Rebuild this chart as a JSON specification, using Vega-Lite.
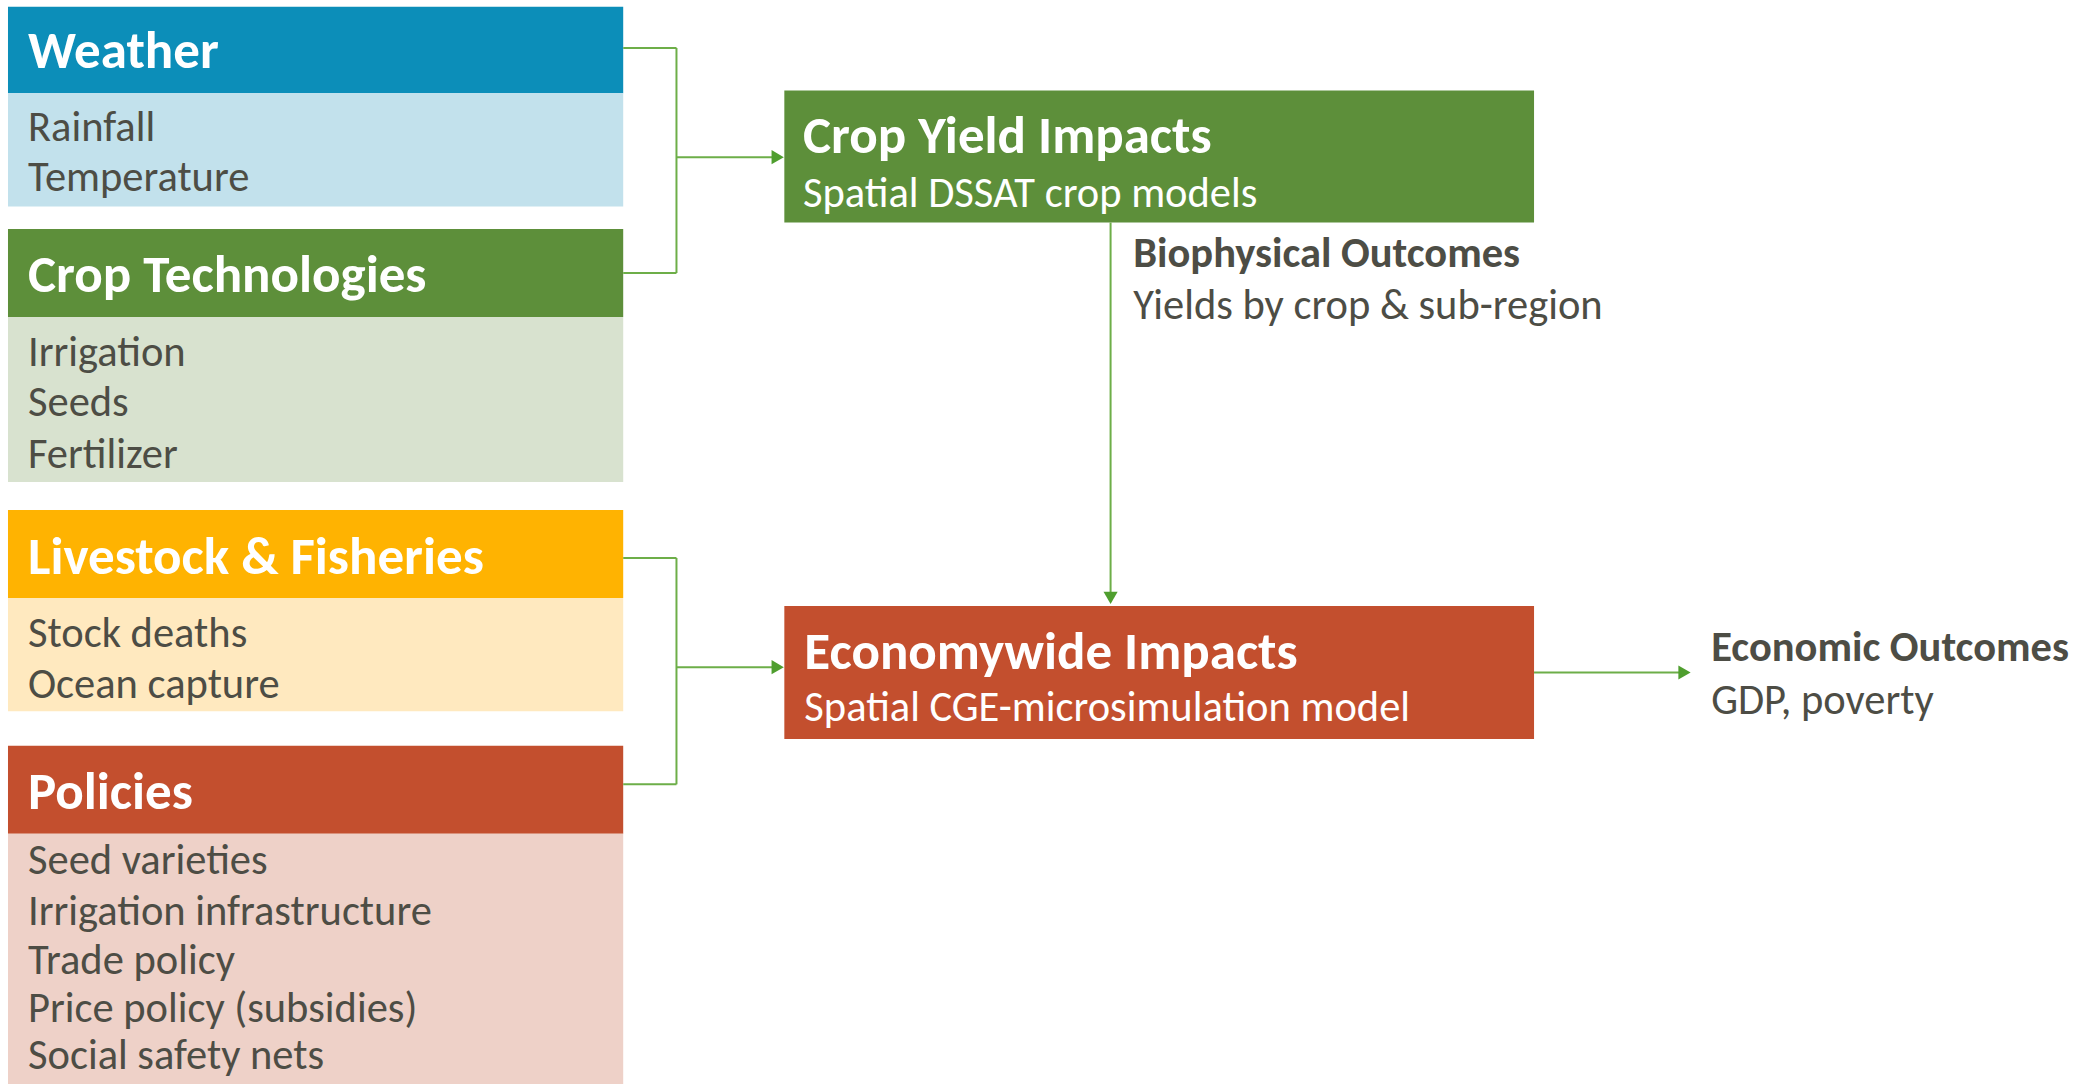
{
  "$schema": "https://vega.github.io/schema/vega-lite/v6.json",
  "width": 2088,
  "height": 1084,
  "autosize": {"type": "fit", "contains": "padding"},
  "padding": 0,
  "background": "#ffffff",
  "config": {"view": {"stroke": null}},
  "datasets": {
    "boxes": [
      {"box": "Weather header", "x": 6, "x2": 468, "y": 5, "y2": 70},
      {"box": "Weather body", "x": 6, "x2": 468, "y": 70, "y2": 155},
      {"box": "Crop header", "x": 6, "x2": 468, "y": 172, "y2": 238},
      {"box": "Crop body", "x": 6, "x2": 468, "y": 238, "y2": 362},
      {"box": "Livestock header", "x": 6, "x2": 468, "y": 383, "y2": 449},
      {"box": "Livestock body", "x": 6, "x2": 468, "y": 449, "y2": 534},
      {"box": "Policies header", "x": 6, "x2": 468, "y": 560, "y2": 626},
      {"box": "Policies body", "x": 6, "x2": 468, "y": 626, "y2": 814},
      {"box": "Crop yield", "x": 589, "x2": 1152, "y": 68, "y2": 167},
      {"box": "Economywide", "x": 589, "x2": 1152, "y": 455, "y2": 555}
    ],
    "texts": [
      {"role": "header", "label": "Weather", "x": 21, "y": 37},
      {"role": "header", "label": "Crop Technologies", "x": 21, "y": 205},
      {"role": "header", "label": "Livestock & Fisheries", "x": 21, "y": 417},
      {"role": "header", "label": "Policies", "x": 21, "y": 593},
      {"role": "item", "label": "Rainfall", "x": 21, "y": 95},
      {"role": "item", "label": "Temperature", "x": 21, "y": 133},
      {"role": "item", "label": "Irrigation", "x": 21, "y": 264},
      {"role": "item", "label": "Seeds", "x": 21, "y": 302},
      {"role": "item", "label": "Fertilizer", "x": 21, "y": 341},
      {"role": "item", "label": "Stock deaths", "x": 21, "y": 475},
      {"role": "item", "label": "Ocean capture", "x": 21, "y": 514},
      {"role": "item", "label": "Seed varieties", "x": 21, "y": 646},
      {"role": "item", "label": "Irrigation infrastructure", "x": 21, "y": 684},
      {"role": "item", "label": "Trade policy", "x": 21, "y": 721},
      {"role": "item", "label": "Price policy (subsidies)", "x": 21, "y": 757},
      {"role": "item", "label": "Social safety nets", "x": 21, "y": 792},
      {"role": "boxtitle", "label": "Crop Yield Impacts", "x": 603, "y": 101},
      {"role": "boxtitle", "label": "Economywide Impacts", "x": 604, "y": 489},
      {"role": "boxsub", "label": "Spatial DSSAT crop models", "x": 603, "y": 145},
      {"role": "boxsub", "label": "Spatial CGE-microsimulation model", "x": 604, "y": 531},
      {"role": "outhead", "label": "Biophysical Outcomes", "x": 851, "y": 190},
      {"role": "outhead", "label": "Economic Outcomes", "x": 1285, "y": 486},
      {"role": "outtext", "label": "Yields by crop & sub-region", "x": 851, "y": 229},
      {"role": "outtext", "label": "GDP, poverty", "x": 1285, "y": 526}
    ],
    "links": [
      {"x": 468, "y": 36, "x2": 508, "y2": 36},
      {"x": 508, "y": 36, "x2": 508, "y2": 205},
      {"x": 468, "y": 205, "x2": 508, "y2": 205},
      {"x": 508, "y": 118, "x2": 582, "y2": 118},
      {"x": 468, "y": 419, "x2": 508, "y2": 419},
      {"x": 508, "y": 419, "x2": 508, "y2": 589},
      {"x": 468, "y": 589, "x2": 508, "y2": 589},
      {"x": 508, "y": 501, "x2": 582, "y2": 501},
      {"x": 834, "y": 167, "x2": 834, "y2": 447},
      {"x": 1152, "y": 505, "x2": 1263, "y2": 505}
    ],
    "heads": [
      {"dir": "right", "x": 584, "y": 118},
      {"dir": "right", "x": 584, "y": 501},
      {"dir": "right", "x": 1265, "y": 505},
      {"dir": "down", "x": 834, "y": 449}
    ]
  },
  "encoding": {
    "x": {"field": "x", "type": "quantitative", "scale": {"domain": [0, 1568], "nice": false, "zero": false}, "axis": null},
    "y": {"field": "y", "type": "quantitative", "scale": {"domain": [0, 814], "nice": false, "zero": false, "reverse": true}, "axis": null}
  },
  "layer": [
    {
      "data": {"name": "boxes"},
      "mark": {"type": "rect", "strokeWidth": 0},
      "encoding": {
        "x2": {"field": "x2"},
        "y2": {"field": "y2"},
        "color": {
          "field": "box", "type": "nominal", "legend": null,
          "scale": {
            "domain": ["Weather header", "Weather body", "Crop header", "Crop body", "Livestock header", "Livestock body", "Policies header", "Policies body", "Crop yield", "Economywide"],
            "range": ["#0C8EB9", "#C2E1EC", "#5D8F3A", "#D8E2CF", "#FFB301", "#FFE9BF", "#C34F2E", "#EED1C8", "#5D8F3A", "#C34F2E"]
          }
        }
      }
    },
    {
      "data": {"name": "links"},
      "mark": {"type": "rule", "color": "#6DAE48", "strokeWidth": 2},
      "encoding": {
        "x2": {"field": "x2"},
        "y2": {"field": "y2"}
      }
    },
    {
      "data": {"name": "heads"},
      "mark": {"type": "point", "filled": true, "opacity": 1, "color": "#4F9E2E", "size": 200},
      "encoding": {
        "shape": {"field": "dir", "type": "nominal", "legend": null, "scale": {"domain": ["right", "down"], "range": ["triangle-right", "triangle-down"]}}
      }
    },
    {
      "data": {"name": "texts"},
      "transform": [{"filter": "datum.role === 'header'"}],
      "mark": {"type": "text", "align": "left", "baseline": "middle", "dy": 3, "font": "Carlito, Lato, sans-serif", "fontWeight": "bold", "fontSize": 53, "color": "#ffffff"},
      "encoding": {"text": {"field": "label"}}
    },
    {
      "data": {"name": "texts"},
      "transform": [{"filter": "datum.role === 'boxtitle'"}],
      "mark": {"type": "text", "align": "left", "baseline": "middle", "dy": 2, "font": "Carlito, Lato, sans-serif", "fontWeight": "bold", "fontSize": 53, "color": "#ffffff"},
      "encoding": {"text": {"field": "label"}}
    },
    {
      "data": {"name": "texts"},
      "transform": [{"filter": "datum.role === 'boxsub'"}],
      "mark": {"type": "text", "align": "left", "baseline": "middle", "dy": 1, "font": "Carlito, Lato, sans-serif", "fontSize": 42.5, "color": "#ffffff"},
      "encoding": {"text": {"field": "label"}}
    },
    {
      "data": {"name": "texts"},
      "transform": [{"filter": "datum.role === 'item'"}],
      "mark": {"type": "text", "align": "left", "baseline": "middle", "dy": 1, "font": "Carlito, Lato, sans-serif", "fontSize": 42.5, "color": "#4D4D45"},
      "encoding": {"text": {"field": "label"}}
    },
    {
      "data": {"name": "texts"},
      "transform": [{"filter": "datum.role === 'outhead'"}],
      "mark": {"type": "text", "align": "left", "baseline": "middle", "dy": 1, "font": "Carlito, Lato, sans-serif", "fontWeight": "bold", "fontSize": 42.5, "color": "#4D4D45"},
      "encoding": {"text": {"field": "label"}}
    },
    {
      "data": {"name": "texts"},
      "transform": [{"filter": "datum.role === 'outtext'"}],
      "mark": {"type": "text", "align": "left", "baseline": "middle", "dy": 1, "font": "Carlito, Lato, sans-serif", "fontSize": 42.5, "color": "#4D4D45"},
      "encoding": {"text": {"field": "label"}}
    }
  ]
}
